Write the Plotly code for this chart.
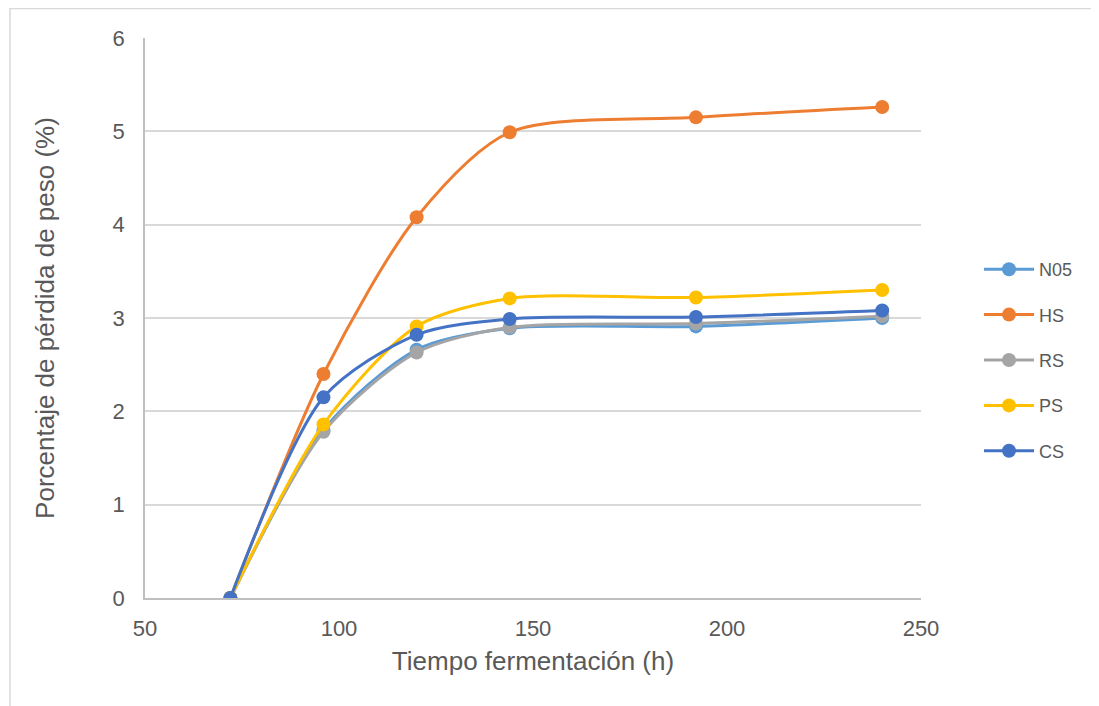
import plotly.graph_objects as go

hours = [72, 96, 120, 144, 192, 240]
series_names = ["N05", "HS", "RS", "PS", "CS"]
n05 = [0, 1.80, 2.66, 2.89, 2.91, 3.00]
hs = [0, 2.40, 4.08, 4.99, 5.15, 5.26]
rs = [0, 1.78, 2.63, 2.90, 2.94, 3.02]
ps = [0, 1.86, 2.91, 3.21, 3.22, 3.30]
cs = [0, 2.15, 2.82, 2.99, 3.01, 3.08]
colors = ["#5B9BD5", "#ED7D31", "#A5A5A5", "#FFC000", "#4472C4"]
values = [n05, hs, rs, ps, cs]

W, H = 1091, 698
L, T, R, B = 137, 30, 178, 108
pw, ph = W - L - R, H - T - B

fig = go.Figure()
for name, vals, col in zip(series_names, values, colors):
    fig.add_trace(go.Scatter(
        x=hours, y=vals, name=name, mode="lines+markers",
        line=dict(color=col, width=3, shape="spline", smoothing=0.8),
        marker=dict(color=col, size=14),
        legendgroup=name,
    ))

fig.update_layout(
    width=W, height=H,
    paper_bgcolor="white", plot_bgcolor="white",
    margin=dict(l=L, r=R, t=T, b=B),
    font=dict(family="Liberation Sans, Arial, sans-serif", color="#595959"),
    showlegend=True,
    legend=dict(x=(979 - 8 - L) / pw, y=(590 - (360 - 8)) / ph, xanchor="left", yanchor="middle",
                font=dict(size=18, color="#595959"), tracegroupgap=19, itemwidth=50,
                bgcolor="rgba(0,0,0,0)"),
    xaxis=dict(range=[50, 250], dtick=50, tick0=50, showgrid=False,
               showline=True, linecolor="#BFBFBF", linewidth=1.5,
               zeroline=False, ticks="", tickfont=dict(size=22, color="#595959"),
               ticklabelstandoff=10,
               title=dict(text="Tiempo fermentación (h)", font=dict(size=26, color="#595959"), standoff=12)),
    yaxis=dict(range=[0, 6], dtick=1, showgrid=True, gridcolor="#D9D9D9", gridwidth=1.5,
               showline=True, linecolor="#BFBFBF", linewidth=1.5,
               zeroline=False, ticks="", tickfont=dict(size=22, color="#595959"),
               ticklabelstandoff=14,
               title=dict(text="Porcentaje de pérdida de peso (%)", font=dict(size=26, color="#595959"), standoff=50)),
    shapes=[dict(type="rect", xref="paper", yref="paper",
                 x0=(2 - L) / pw, x1=1.3, y0=-0.3, y1=1 + (T - 0.5) / ph,
                 line=dict(color="#D9D9D9", width=1.5), layer="below")],
)

fig.write_html("out.html")
